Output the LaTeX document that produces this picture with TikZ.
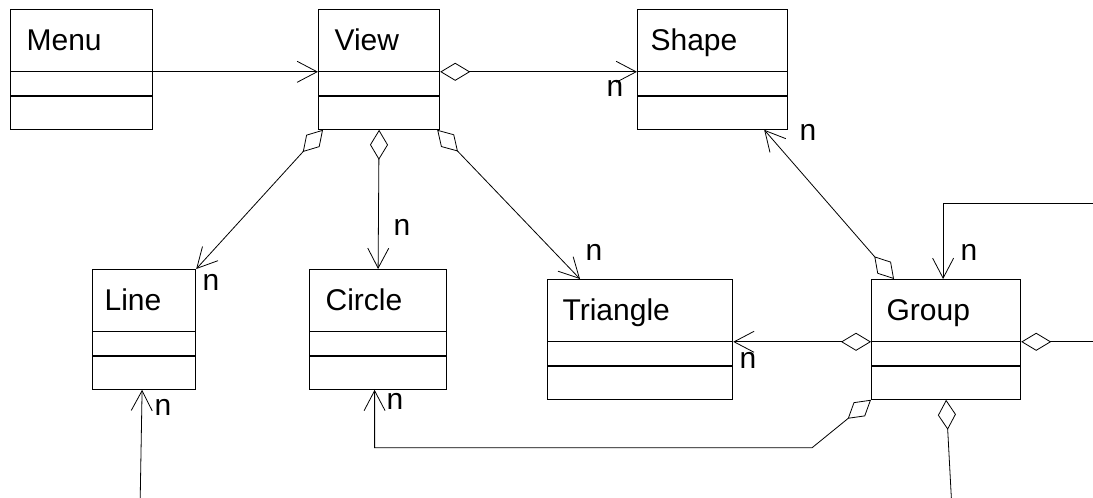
\documentclass[tikz,border=0pt]{standalone}
\usepackage{fontspec}
\setmainfont{Liberation Sans}
\usetikzlibrary{arrows.meta, shapes.multipart}

\newcommand{\classparts}[1]{\rule[-21pt]{0pt}{61pt}#1\nodepart{two}\rule{0pt}{23pt}\nodepart{three}\rule{0pt}{32pt}}

\begin{document}
\begin{tikzpicture}[
    x=1pt, y=-1pt,
    >={Straight Barb[length=20pt, width=21pt]},
    font=\fontsize{30pt}{35pt}\selectfont,
    line width=0.8pt,
    class/.style={rectangle split, rectangle split parts=3, draw,
                  line width=1.2pt, inner xsep=16pt, inner ysep=0pt,
                  text width=#1, align=left, anchor=north west},
    has/.style={{Diamond[open, length=30pt, width=18pt]}->},
    hasonly/.style={{Diamond[open, length=30pt, width=18pt]}-},
    mult/.style={inner sep=0pt}
  ]
    \path[use as bounding box, fill=white] (0,0) rectangle (1093,498);
    \clip (0,0) rectangle (1093,498);

    \node[class=110pt] (menu)     at (10,9)   {\classparts{Menu}};
    \node[class=89pt]  (view)     at (318,9)  {\classparts{View}};
    \node[class=124pt, inner xsep=13pt] (shape) at (637,9) {\classparts{Shape}};
    \node[class=79pt, inner xsep=12pt]  (line)  at (92,269) {\classparts{Line}};
    \node[class=105pt] (circle)   at (309,269){\classparts{Circle}};
    \node[class=155pt, inner xsep=15pt] (triangle) at (547,279){\classparts{Triangle}};
    \node[class=119pt, inner xsep=15pt] (group)    at (871,279){\classparts{Group}};

    \coordinate (loop)     at (1110,203);
    \coordinate (line-in)  at (140,510);
    \coordinate (group-out) at (952,510);

    \draw[->]  (menu.text split east) -- (view.text split west);
    \draw[has] (view.text split east) -- (shape.text split west);
    \draw[has] ([xshift=5pt]view.south west) -- (line.north east);
    \draw[has] (view.south) -- (circle.north);
    \draw[has] ([xshift=-3pt]view.south east) -- ([xshift=33pt]triangle.north west);
    \draw[has] ([xshift=23pt]group.north west) -- ([xshift=-24pt]shape.south east);
    \draw[has] (group.text split west) -- (triangle.text split east);
    \draw[has] (group.text split east) -- (loop |- group.text split east)
               -- (loop) -| ([xshift=-3pt]group.north);
    \draw[has] (group.south west) -- ++(-59,48) -| ([xshift=-3.5pt]circle.south);
    \draw[hasonly] (group.south) -- (group-out);
    \draw[->]  (line-in) -- ([xshift=-2pt]line.south);

    \node[mult] (n-shape-w)   at (615,88)  {n};
    \node[mult] (n-shape-s)   at (808,132) {n};
    \node[mult] (n-line-n)    at (211,282) {n};
    \node[mult] (n-line-s)    at (163,407) {n};
    \node[mult] (n-circle-n)  at (402,227) {n};
    \node[mult] (n-circle-s)  at (395,401) {n};
    \node[mult] (n-triangle-n) at (594,252) {n};
    \node[mult] (n-triangle-e) at (748,360) {n};
    \node[mult] (n-group)     at (969,252) {n};
  \end{tikzpicture}
\end{document}
